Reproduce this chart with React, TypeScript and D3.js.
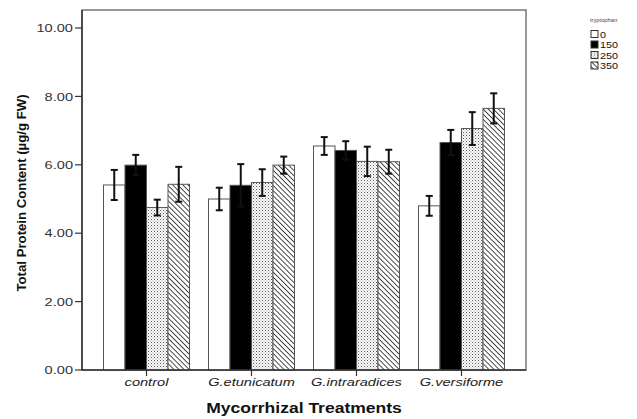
import React from "react";
import * as d3 from "d3";

const categories = ["control", "G.etunicatum", "G.intraradices", "G.versiforme"];
const series = ["0", "150", "250", "350"];
const means0 = [5.41, 5.0, 6.55, 4.8];
const means150 = [5.99, 5.4, 6.42, 6.65];
const means250 = [4.75, 5.48, 6.1, 7.06];
const means350 = [5.43, 5.99, 6.09, 7.65];
const err0 = [0.44, 0.33, 0.26, 0.29];
const err150 = [0.3, 0.62, 0.27, 0.37];
const err250 = [0.23, 0.39, 0.43, 0.48];
const err350 = [0.51, 0.25, 0.35, 0.44];
const yTicks = [0, 2, 4, 6, 8, 10];

const means = [means0, means150, means250, means350];
const errs = [err0, err150, err250, err350];
const fills = ["#ffffff", "#000000", "url(#dots)", "url(#hatch)"];

const W = 637, H = 419;
const left = 82, right = 526, top = 10, bottom = 370;
const font = "Arial, 'Liberation Sans', sans-serif";
const SX = 1.27; // horizontal stretch of text seen in the reference

export default function App() {
  const y = d3.scaleLinear().domain([0, 10]).range([bottom, 28]);
  const x0 = d3.scaleBand<string>().domain(categories).range([94, 514]).padding(0);
  const x1 = d3.scaleBand<string>().domain(series).range([0, x0.bandwidth()]).paddingInner(0).paddingOuter(0.442);

  return (
    <svg width={W} height={H} style={{ position: "absolute", left: 0, top: 0, background: "#fff" }} fontFamily={font}>
      <defs>
        <pattern id="dots" width="3" height="3" patternUnits="userSpaceOnUse">
          <rect width="3" height="3" fill="#fff" />
          <rect x="0" y="0" width="1" height="1" fill="#555" />
          <rect x="1.5" y="1.5" width="1" height="1" fill="#888" />
        </pattern>
        <pattern id="hatch" width="3.6" height="4" patternUnits="userSpaceOnUse" patternTransform="rotate(-45)">
          <rect width="3.6" height="4" fill="#fff" />
          <line x1="0" y1="0" x2="0" y2="4" stroke="#111" strokeWidth="1.5" />
        </pattern>
      </defs>

      {/* frame */}
      <rect x={left} y={top} width={right - left} height={bottom - top} fill="none" stroke="#777" strokeWidth={1.5} />

      {/* bars */}
      {categories.map((c, ci) => (
        <g key={c} transform={`translate(${x0(c)},0)`}>
          {series.map((s, si) => {
            const v = means[si][ci];
            const bx = x1(s)!;
            const bw = x1.bandwidth();
            return (
              <rect key={s} x={bx} y={y(v)} width={bw} height={bottom - y(v)} fill={fills[si]} stroke="#555" strokeWidth={1} />
            );
          })}
          {series.map((s, si) => {
            const v = means[si][ci];
            const e = errs[si][ci];
            const cx = x1(s)! + x1.bandwidth() / 2;
            return (
              <g key={"e" + s} stroke="#111" strokeWidth={2}>
                <line x1={cx} x2={cx} y1={y(v + e)} y2={y(v - e)} />
                <line x1={cx - 3.5} x2={cx + 3.5} y1={y(v + e)} y2={y(v + e)} />
                <line x1={cx - 3.5} x2={cx + 3.5} y1={y(v - e)} y2={y(v - e)} />
              </g>
            );
          })}
        </g>
      ))}

      {/* y axis */}
      <line x1={left} x2={left} y1={top} y2={bottom} stroke="#333" strokeWidth={1.5} />
      {yTicks.map((t) => (
        <g key={t}>
          <line x1={left - 7} x2={left} y1={y(t)} y2={y(t)} stroke="#333" strokeWidth={1.2} />
          <text transform={`translate(${left - 9},${y(t)}) scale(${SX},1)`} dy="0.36em" textAnchor="end" fontSize={11.5} fill="#333">
            {t.toFixed(2)}
          </text>
        </g>
      ))}
      <text transform={`translate(26,193) rotate(-90)`} textAnchor="middle" fontSize={13.2} fontWeight="bold" fill="#111">
        Total Protein Content (µg/g FW)
      </text>

      {/* x axis */}
      <line x1={left} x2={right} y1={bottom} y2={bottom} stroke="#333" strokeWidth={1.5} />
      {categories.map((c) => {
        const cx = x0(c)! + x0.bandwidth() / 2;
        return (
          <g key={c}>
            <line x1={cx} x2={cx} y1={bottom} y2={bottom + 6} stroke="#333" strokeWidth={1.2} />
            <text transform={`translate(${cx},386) scale(${SX},1)`} textAnchor="middle" fontSize={11.5} fontStyle="italic" fill="#222">
              {c}
            </text>
          </g>
        );
      })}
      <text transform={`translate(${(left + right) / 2},413) scale(${SX},1)`} textAnchor="middle" fontSize={13.8} fontWeight="bold" fill="#111">
        Mycorrhizal Treatments
      </text>

      {/* legend */}
      <text transform={`translate(590,22) scale(1.15,1)`} fontSize={5} fill="#444">tryptophan</text>
      {series.map((s, si) => (
        <g key={s} transform={`translate(591,${30.5 + si * 10.5})`}>
          <rect x={0} y={0} width={7} height={7} fill={fills[si]} stroke="#333" strokeWidth={1} />
          <text transform={`translate(9,7) scale(1.2,1)`} fontSize={9} fill="#111">{s}</text>
        </g>
      ))}
    </svg>
  );
}
